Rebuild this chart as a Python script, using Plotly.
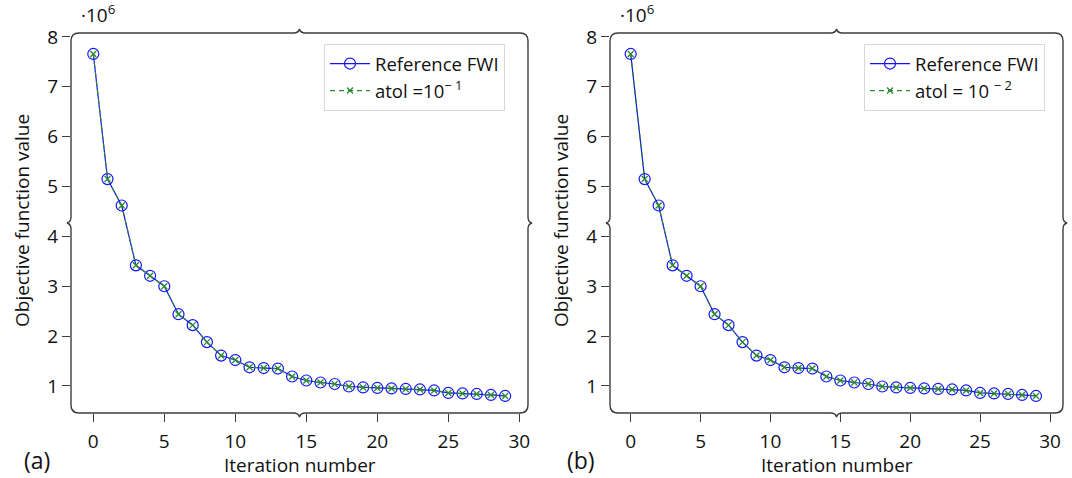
import plotly.graph_objects as go

# ---------------- data ----------------
iterations = list(range(30))
ref_fwi_a = [7.66, 5.15, 4.62, 3.42, 3.21, 3.00, 2.44, 2.22, 1.88, 1.61,
             1.52, 1.375, 1.36, 1.35, 1.19, 1.11, 1.07, 1.04, 0.99, 0.97,
             0.96, 0.95, 0.94, 0.93, 0.91, 0.86, 0.85, 0.84, 0.82, 0.80]
atol_1 = [7.66, 5.15, 4.62, 3.42, 3.21, 3.00, 2.44, 2.22, 1.88, 1.61,
          1.52, 1.375, 1.36, 1.35, 1.19, 1.11, 1.07, 1.04, 0.99, 0.97,
          0.96, 0.95, 0.94, 0.93, 0.91, 0.86, 0.85, 0.84, 0.82, 0.80]
ref_fwi_b = ref_fwi_a
atol_2 = [7.66, 5.15, 4.62, 3.42, 3.21, 3.00, 2.44, 2.22, 1.88, 1.61,
          1.52, 1.375, 1.36, 1.35, 1.19, 1.11, 1.07, 1.04, 0.99, 0.97,
          0.96, 0.95, 0.94, 0.93, 0.91, 0.86, 0.85, 0.84, 0.82, 0.80]
x_ticks = [0, 5, 10, 15, 20, 25, 30]
y_ticks = [1, 2, 3, 4, 5, 6, 7, 8]
legend_a = ["Reference FWI", "atol =10<sup>− 1</sup>"]
legend_b = ["Reference FWI", "atol = 10 <sup>− 2</sup>"]

W, H = 1072, 478
FONT = "Open Sans"
BLUE = "#1414ff"
GREEN = "#2a8a2a"
FRAME = "#3c3c3c"

def px(x):
    return x / W

def py(y):
    return 1 - y / H

# panel frames in pixel coordinates (left, top, right, bottom)
panels = [(71, 33, 528, 413), (610, 33, 1063, 413)]
xranges = [[-1.57, 30.61], [-1.48, 30.93]]
yrange = [0.458, 8.08]

fig = go.Figure()

series = [(ref_fwi_a, atol_1, legend_a), (ref_fwi_b, atol_2, legend_b)]
for i, (ref, at, names) in enumerate(series):
    xa = "x" if i == 0 else "x2"
    ya = "y" if i == 0 else "y2"
    lg = "legend" if i == 0 else "legend2"
    fig.add_trace(go.Scatter(
        x=iterations, y=ref, mode="lines+markers", name=names[0],
        line=dict(color=BLUE, width=1.2),
        marker=dict(symbol="circle-open", size=11, color=BLUE, line=dict(width=1.2)),
        xaxis=xa, yaxis=ya, legend=lg))
    fig.add_trace(go.Scatter(
        x=iterations, y=at, mode="lines+markers", name=names[1],
        line=dict(color=GREEN, width=1.1, dash="5px,4px"),
        marker=dict(symbol="x-thin-open", size=6, color=GREEN, line=dict(width=1.3, color=GREEN)),
        xaxis=xa, yaxis=ya, legend=lg))

axis_common = dict(
    showgrid=False, zeroline=False, showline=False,
    ticks="outside", ticklen=8, tickwidth=1, tickcolor=FRAME,
    tickfont=dict(family=FONT, size=19, color="#111"),
)

layout = dict(
    width=W, height=H, margin=dict(l=0, r=0, t=0, b=0, autoexpand=False),
    paper_bgcolor="white", plot_bgcolor="white",
    font=dict(family=FONT, color="#111"),
)
for i, (l, t, r, b) in enumerate(panels):
    sx = "" if i == 0 else "2"
    layout["xaxis" + sx] = dict(axis_common, domain=[px(l), px(r)], range=xranges[i],
                                tickvals=x_ticks, anchor="y" + sx, ticklabelstandoff=3)
    layout["yaxis" + sx] = dict(axis_common, domain=[py(b), py(t)], range=yrange,
                                tickvals=y_ticks, anchor="x" + sx)
fig.update_layout(**layout)

legend_style = dict(
    bgcolor="white", bordercolor="#d8d8d8", borderwidth=1,
    font=dict(family=FONT, size=18.5, color="#111"),
    xanchor="left", yanchor="top", itemwidth=40, tracegroupgap=0,
)
fig.update_layout(
    legend=dict(legend_style, x=px(324), y=py(44)),
    legend2=dict(legend_style, x=px(864), y=py(44)),
)

# rounded frame with brace-like notches
def frame_path(l, t, r, b, rad=8, bump=4, bw=6):
    mx = (l + r) / 2
    my = (t + b) / 2
    def P(x, y):
        return f"{px(x):.6f},{py(y):.6f}"
    d = f"M {P(l + rad, t)}"
    d += f" L {P(mx - bw, t)} Q {P(mx - 1, t)} {P(mx, t - bump)} Q {P(mx + 1, t)} {P(mx + bw, t)}"
    d += f" L {P(r - rad, t)} Q {P(r, t)} {P(r, t + rad)}"
    d += f" L {P(r, my - bw)} Q {P(r, my - 1)} {P(r + bump, my)} Q {P(r, my + 1)} {P(r, my + bw)}"
    d += f" L {P(r, b - rad)} Q {P(r, b)} {P(r - rad, b)}"
    d += f" L {P(mx + bw, b)} Q {P(mx + 1, b)} {P(mx, b + bump)} Q {P(mx - 1, b)} {P(mx - bw, b)}"
    d += f" L {P(l + rad, b)} Q {P(l, b)} {P(l, b - rad)}"
    d += f" L {P(l, my + bw)} Q {P(l, my + 1)} {P(l - bump, my)} Q {P(l, my - 1)} {P(l, my - bw)}"
    d += f" L {P(l, t + rad)} Q {P(l, t)} {P(l + rad, t)} Z"
    return d

for (l, t, r, b) in panels:
    fig.add_shape(type="path", path=frame_path(l, t, r, b), xref="paper", yref="paper",
                  line=dict(color=FRAME, width=1.4), layer="above")

annots = []
def ann(x, y, text, size=19, angle=0):
    annots.append(dict(x=px(x), y=py(y), xref="paper", yref="paper", text=text,
                       showarrow=False, textangle=angle, font=dict(family=FONT, size=size),
                       xanchor="center", yanchor="middle"))

for i, (l, t, r, b) in enumerate(panels):
    ann(l + 27, 14, "·10<sup>6</sup>", size=19)
    ann((l + r) / 2, 465, "Iteration number")
    ann(l - 49, 221, "Objective function value", angle=-90)
ann(37, 460, "(a)", size=23)
ann(581, 460, "(b)", size=23)
fig.update_layout(annotations=annots)

fig.write_html("out.html", config={"displayModeBar": False},
               post_script="document.body.style.margin='0';document.body.style.padding='0';")
